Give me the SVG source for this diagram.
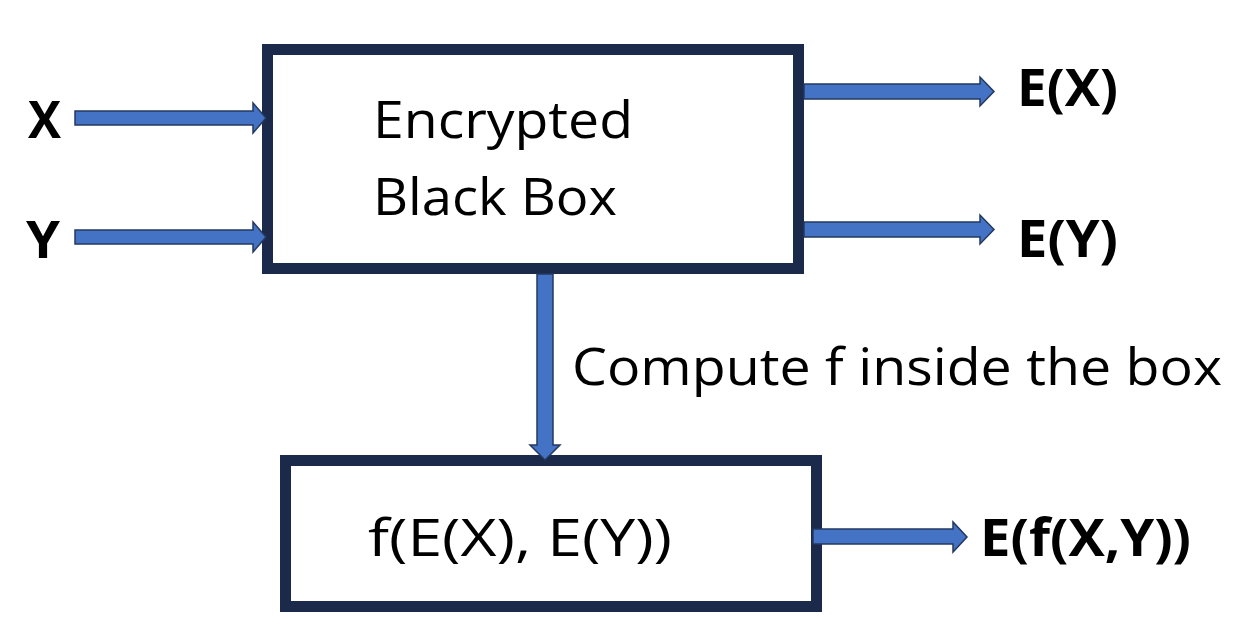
<svg xmlns="http://www.w3.org/2000/svg" width="1243" height="634" viewBox="0 0 1243 634">
<style>
.box{fill:#ffffff;stroke:#1b2a4a;stroke-width:11}
.arr{fill:#4472c4;stroke:#23395f;stroke-width:1.5;stroke-linejoin:miter}
.t{font-family:"Open Sans","Liberation Sans",sans-serif;font-size:52px;fill:#000}
.b{font-family:"Open Sans","Liberation Sans",sans-serif;font-size:52px;font-weight:bold;fill:#000}
</style>
<rect width="1243" height="634" fill="#ffffff"/>
<g id="black-box">
<rect class="box" x="267.5" y="49.5" width="531" height="219"/>
<text class="t" x="373" y="138" textLength="260" lengthAdjust="spacingAndGlyphs">Encrypted</text>
<text class="t" x="373" y="215" textLength="244" lengthAdjust="spacingAndGlyphs">Black Box</text>
</g>
<g id="compute-box">
<rect class="box" x="285.5" y="460.5" width="531" height="146"/>
<text class="t" x="368" y="556" textLength="304" lengthAdjust="spacingAndGlyphs">f(E(X), E(Y))</text>
</g>
<g id="input-x"><text class="b" x="28" y="138" textLength="33" lengthAdjust="spacingAndGlyphs">X</text></g>
<g id="input-y"><text class="b" x="26" y="258" textLength="34" lengthAdjust="spacingAndGlyphs">Y</text></g>
<g id="output-ex"><text class="b" x="1017" y="106" textLength="101" lengthAdjust="spacingAndGlyphs">E(X)</text></g>
<g id="output-ey"><text class="b" x="1017" y="257" textLength="101" lengthAdjust="spacingAndGlyphs">E(Y)</text></g>
<g id="output-efxy"><text class="b" x="980" y="556" textLength="211" lengthAdjust="spacingAndGlyphs">E(f(X,Y))</text></g>
<g id="connectors">
<polygon class="arr" points="75,111 253,111 253,103 266,118 253,133 253,125 75,125"/>
<polygon class="arr" points="75,230 253,230 253,222 266,237 253,252 253,244 75,244"/>
<polygon class="arr" points="804,84 980,84 980,77 994,91.5 980,106 980,99 804,99"/>
<polygon class="arr" points="804,222 980,222 980,215 994,229.5 980,244 980,237 804,237"/>
<polygon class="arr" points="537,274 537,445 530,445 545,460 560,445 553,445 553,274"/>
<polygon class="arr" points="813,529 953,529 953,522 967,537 953,552 953,544 813,544"/>
<text class="t" x="572" y="385" textLength="650" lengthAdjust="spacingAndGlyphs">Compute f inside the box</text>
</g>
</svg>
